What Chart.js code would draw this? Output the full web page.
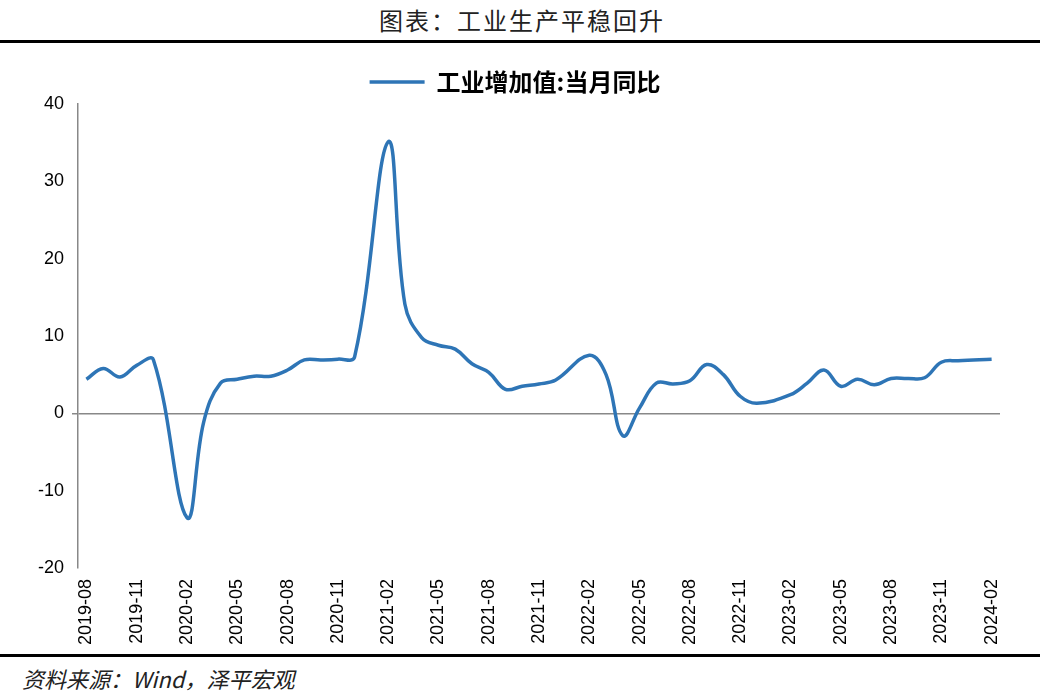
<!DOCTYPE html>
<html>
<head>
<meta charset="utf-8">
<script src="https://cdn.jsdelivr.net/npm/chart.js@4/dist/chart.umd.min.js"></script>
<style>
body{margin:0;width:1044px;height:696px;background:#fff;font-family:"Noto Sans CJK SC",sans-serif;overflow:hidden}
#title{position:absolute;left:0;top:2px;width:1044px;text-align:center;font-size:24px;letter-spacing:2px;color:#222}
#topline{position:absolute;left:0;top:40px;width:1040px;height:3px;background:#000}
#box{position:absolute;left:0;top:48px;width:1040px;height:600px}
#botline{position:absolute;left:0;top:654px;width:1040px;height:3px;background:#000}
#src{position:absolute;left:22px;top:662px;font-size:22px;font-style:italic;color:#222}
</style>
</head>
<body>
<div id="title">图表：工业生产平稳回升</div>
<div id="topline"></div>
<div id="box"><canvas id="c"></canvas></div>
<div id="botline"></div>
<div id="src">资料来源：Wind，泽平宏观</div>
<script>
var months = [];
for (let y = 2019, m = 8; y < 2024 || (y == 2024 && m <= 2); ) {
    months.push(y + "-" + (m < 10 ? "0" + m : m));
    m++; if (m > 12) { m = 1; y++; }
}
var ipYoy = [
    4.4, 5.8, 4.7, 6.2, 6.9,
    null, -13.5, -1.1, 3.9, 4.4, 4.8, 4.8, 5.6, 6.9, 6.9, 7.0, 7.3,
    null, 35.1, 14.1, 9.8, 8.8, 8.3, 6.4, 5.3, 3.1, 3.5, 3.8, 4.3,
    null, 7.5, 5.0, -2.9, 0.7, 3.9, 3.8, 4.2, 6.3, 5.0, 2.2, 1.3,
    null, 2.4, 3.9, 5.6, 3.5, 4.4, 3.7, 4.5, 4.5, 4.6, 6.6, 6.8,
    null, 7.0
];
var yTicks = [-20, -10, 0, 10, 20, 30, 40];

new Chart(document.getElementById("c"), {
    type: "line",
    data: {
        labels: months,
        datasets: [{
            label: "工业增加值:当月同比",
            data: ipYoy,
            borderColor: "#2e75b6",
            backgroundColor: "#2e75b6",
            borderWidth: 3.5,
            pointRadius: 0,
            tension: 0.4,
            spanGaps: true
        }]
    },
    options: {
        responsive: true,
        maintainAspectRatio: false,
        animation: false,
        layout: {padding: {left: 30, right: 40, top: 12, bottom: 0}},
        plugins: {
            legend: {
                labels: {
                    boxWidth: 55, boxHeight: 0, color: "#000",
                    font: {size: 24, weight: "bold", family: "Noto Sans CJK SC"}
                }
            }
        },
        scales: {
            x: {
                offset: true,
                grid: {display: false},
                border: {display: false},
                ticks: {
                    autoSkip: false, maxRotation: 90, minRotation: 90, color: "#000",
                    font: {size: 18, family: "Liberation Sans"},
                    callback: function(v, i){ return i % 3 == 0 ? months[i] : null; }
                }
            },
            y: {
                min: -20, max: 40,
                afterBuildTicks: function(s){ s.ticks = yTicks.map(v => ({value: v})); },
                grid: {
                    drawTicks: true, tickLength: 6,
                    color: function(c){ return c.tick && c.tick.value === 0 ? "#888" : "rgba(0,0,0,0)"; },
                    lineWidth: 1.5
                },
                border: {display: true, color: "#888", width: 1.5},
                ticks: {color: "#000", padding: 8, font: {size: 18, family: "Liberation Sans"}}
            }
        }
    }
});
</script>
</body>
</html>
